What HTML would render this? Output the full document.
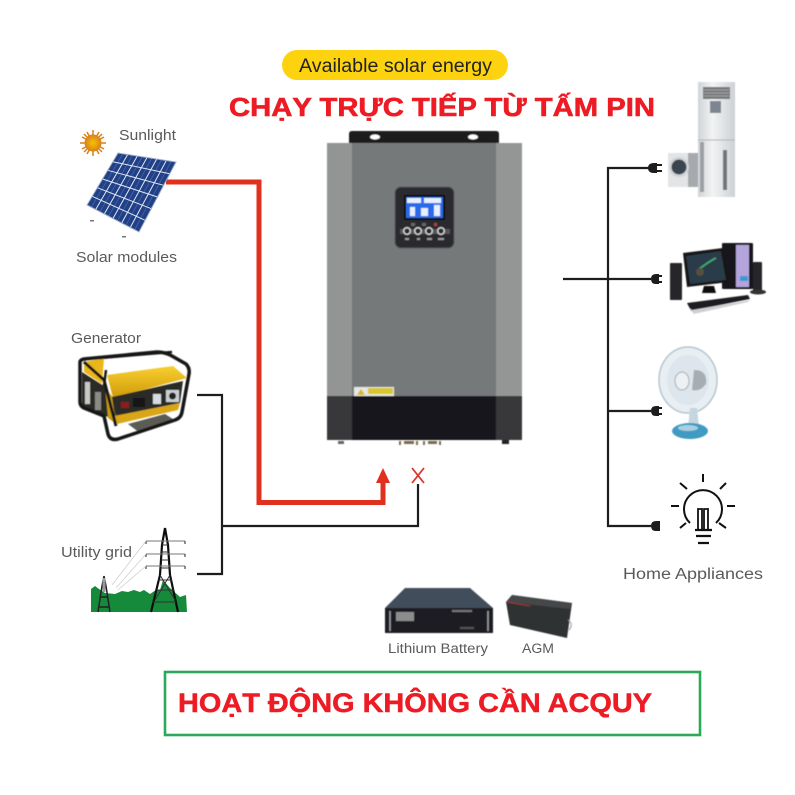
<!DOCTYPE html>
<html><head><meta charset="utf-8"><style>
html,body{margin:0;padding:0;background:#fff}
svg{display:block}
text{font-family:"Liberation Sans",sans-serif}
</style></head><body>
<svg width="795" height="795" viewBox="0 0 795 795" xmlns="http://www.w3.org/2000/svg">
<defs>
<filter id="b" x="-5%" y="-5%" width="110%" height="110%"><feGaussianBlur stdDeviation="0.6"/></filter>
<filter id="t" x="-5%" y="-20%" width="110%" height="140%"><feGaussianBlur stdDeviation="0.3"/></filter>
<radialGradient id="sun"><stop offset="0" stop-color="#f5c400"/><stop offset="1" stop-color="#d8801a"/></radialGradient>
<linearGradient id="gy" x1="0" y1="0" x2="0" y2="1"><stop offset="0" stop-color="#f8cf30"/><stop offset="1" stop-color="#d09a0a"/></linearGradient>
<linearGradient id="ac" x1="0" y1="0" x2="1" y2="0"><stop offset="0" stop-color="#d0d4d8"/><stop offset=".4" stop-color="#f1f3f4"/><stop offset="1" stop-color="#cdd1d4"/></linearGradient>
</defs>
<rect width="795" height="795" fill="#fff"/>

<!-- pill -->
<rect x="282" y="50" width="226" height="30" rx="15" fill="#fdd20e"/>
<text x="299" y="72" font-size="19" fill="#222" textLength="193" lengthAdjust="spacingAndGlyphs">Available solar energy</text>
<!-- headline -->
<text x="229" y="116" font-size="26" font-weight="bold" fill="#ed1c24" stroke="#ed1c24" stroke-width=".6" textLength="426" lengthAdjust="spacingAndGlyphs">CHẠY TRỰC TIẾP TỪ TẤM PIN</text>

<!-- inverter -->
<g filter="url(#b)">
<path d="M349 143V134q0-3 3-3H496q3 0 3 3V143Z" fill="#1d1d1f"/>
<ellipse cx="375" cy="137" rx="5" ry="2.500" fill="#fff"/>
<ellipse cx="473" cy="137" rx="5" ry="2.500" fill="#fff"/>
<rect x="327" y="143" width="25" height="253" fill="#939494"/>
<rect x="496" y="143" width="26" height="253" fill="#949595"/>
<rect x="352" y="143" width="144" height="253" fill="#76797a"/>
<rect x="327" y="396" width="25" height="44" fill="#39393b"/>
<rect x="496" y="396" width="26" height="44" fill="#39393b"/>
<rect x="352" y="396" width="144" height="44" fill="#17171a"/>
<rect x="354" y="387" width="40" height="9" fill="#e6e6e2"/>
<rect x="368" y="388" width="25" height="6" fill="#d9c62c"/>
<path d="M357 395l4-6 4 6Z" fill="#d9b81c"/>
<g fill="#7a6a48"><rect x="399" y="441" width="2" height="4"/><rect x="404" y="441" width="10" height="3"/><rect x="416" y="441" width="2" height="4"/><rect x="423" y="441" width="2" height="4"/><rect x="428" y="441" width="9" height="3"/><rect x="439" y="441" width="2" height="4"/></g>
<rect x="502" y="440" width="7" height="4" fill="#222"/>
<rect x="338" y="441" width="6" height="3" fill="#666"/>
<rect x="395" y="187" width="59" height="61" rx="6" fill="#2b2b2d" stroke="#55565a" stroke-width="1"/>
<rect x="404" y="195" width="41" height="25" rx="1" fill="#111"/>
<rect x="406" y="197" width="37" height="21" fill="#2a6ae8"/>
<g fill="#e6f0ff"><rect x="407" y="198" width="14" height="5"/><rect x="424" y="198" width="17" height="5"/><rect x="410" y="207" width="5" height="9"/><rect x="421" y="208" width="7" height="8"/><rect x="434" y="205" width="6" height="11"/></g>
<g fill="#666"><rect x="411" y="223" width="4" height="3"/><rect x="422" y="223" width="4" height="3"/></g>
<rect x="434" y="223" width="3" height="3" fill="#a44"/>
<rect x="400" y="229" width="50" height="5" fill="#55565a"/>
<g fill="#2b2b2d" stroke="#d5d5d5" stroke-width="1.400"><circle cx="407" cy="231" r="3.300"/><circle cx="418" cy="231" r="3.300"/><circle cx="429" cy="231" r="3.300"/><circle cx="441" cy="231" r="3.300"/></g>
<g fill="#9a9a9a"><rect x="405" y="238" width="4" height="2"/><rect x="417" y="238" width="3" height="2"/><rect x="427" y="238" width="5" height="2"/><rect x="438" y="238" width="6" height="2"/></g>
</g>

<!-- red line -->
<path d="M166 182H259V502.500H383V480" fill="none" stroke="#e0301e" stroke-width="5"/>
<path d="M383 468l7 15h-14Z" fill="#e0301e"/>
<!-- X -->
<path d="M412 468l12 15M424 468l-12 15" stroke="#d9362a" stroke-width="1.800" fill="none"/>

<!-- black connectors -->
<g fill="none" stroke="#1d1d1d" stroke-width="2.200">
<path d="M197 395H222V574H197"/>
<path d="M222 526H418V484"/>
<path d="M563 279H608"/>
<path d="M651 168H608V526H651"/>
<path d="M608 279H651M608 411H651"/>
</g>
<!-- plugs -->
<g fill="#1d1d1d">
<path d="M648 168q0-5 6-5h3v10h-3q-6 0-6-5Z"/><rect x="657" y="164" width="5" height="2"/><rect x="657" y="170" width="5" height="2"/>
<path d="M651 279q0-5 5-5h3v10h-3q-5 0-5-5Z"/><rect x="659" y="275" width="3" height="2"/><rect x="659" y="281" width="3" height="2"/>
<path d="M651 411q0-5 5-5h3v10h-3q-5 0-5-5Z"/><rect x="659" y="407" width="3" height="2"/><rect x="659" y="413" width="3" height="2"/>
<path d="M651 526q0-5 5-5h4v10h-4q-5 0-5-5Z"/>
</g>

<!-- sun -->
<g filter="url(#t)">
<g stroke="#d8801a" stroke-width="1.500"><path d="M93 130V156M80 143H106M84 134L102 152M102 134L84 152M87 132L99 154M99 132L87 154M82 137L104 149M104 137L82 149"/></g>
<circle cx="93" cy="143" r="8.500" fill="url(#sun)"/>
</g>

<!-- solar panel -->
<g filter="url(#t)">
<polygon points="118,153 176,162 139,232 87,205" fill="#233f86"/>
<g stroke="#4a72b8" stroke-width=".8" fill="none" opacity=".8">
<path d="M122.800 153.800L91.300 207.200M132.500 155.200L100 211.700M142.200 156.800L108.700 216.200M151.800 158.200L117.300 220.800M161.500 159.800L126 225.200M171.200 161.200L134.700 229.700"/>
</g>
<g stroke="#dfe7f5" stroke-width="1" fill="none">
<path d="M112.800 161.700L169.800 173.700M107.700 170.300L163.700 185.300M102.500 179L157.500 197M97.300 187.700L151.300 208.700M92.200 196.300L145.200 220.300"/>
<path d="M127.700 154.500L95.700 209.500M137.300 156L104.300 214M147 157.500L113 218.500M156.700 159L121.700 223M166.300 160.500L130.300 227.500"/>
</g>
<polygon points="118,153 176,162 139,232 87,205" fill="none" stroke="#9fb0cc" stroke-width="1"/>
<rect x="90" y="220" width="4" height="1.500" fill="#777"/><rect x="122" y="236" width="4" height="1.500" fill="#777"/>
</g>

<!-- generator -->
<g filter="url(#b)">
<polygon points="84,362 104,358 102,384 84,372" fill="#e9b71b"/>
<polygon points="82,372 104,386 113,398 116,418 104,416 82,408" fill="#2a2a28"/>
<rect x="85" y="382" width="5" height="22" fill="#c8c8c4"/>
<rect x="95" y="392" width="6" height="18" fill="#8a8a86"/>
<polygon points="107,375 173,366 187,378 113,398" fill="url(#gy)"/>
<polygon points="112,397 183,381 180,403 116,416" fill="#2a2a26"/>
<polygon points="114,416 180,403 178,410 117,424" fill="#d8a612"/>
<polygon points="112,397 116,424 108,418 105,386" fill="#c99a10"/>
<rect x="121" y="402" width="8" height="6" fill="#8c1f1f"/>
<rect x="133" y="398" width="12" height="9" fill="#181818"/>
<rect x="153" y="394" width="8" height="10" fill="#d7dce0"/>
<rect x="166" y="390" width="13" height="12" fill="#c9ced2"/><circle cx="172.500" cy="396" r="3.500" fill="#222"/>
<polygon points="128,424 165,414 176,421 140,433" fill="#5c5c54"/>
<g fill="none" stroke="#181816" stroke-width="3.500" stroke-linejoin="round">
<path d="M80 362Q80 360 84 359L157 352Q165 352 172 356L186 364Q190 368 189 374L182 412Q181 418 175 420L118 439Q110 441 108 434L104 416L84 408Q80 406 80 402Z"/>
<path d="M104 386L106 370" stroke-width="2.500"/>
<path d="M84 362L104 380L116 426" stroke-width="3"/>
<path d="M100 358L172 352" stroke-width="2.500"/>
</g>
</g>

<!-- tower -->
<g filter="url(#t)">
<path d="M91 612V589L95 586L99 589L105 593L115 594L122 591L128 592L134 590L140 592L144 590L150 594L156 590L160 590L163 580L170 588L180 597L186 595L187 612Z" fill="#138a3a"/>
<path d="M165 528L168 545L170 575L178 612M165 528L162 545L160 575L151 612" fill="none" stroke="#111" stroke-width="2.200"/>
<path d="M162 545H168M161 552H169M161 560H169M160 568H170M158 580H172M156 590H174M153 602H176M160 575L175 600M170 575L155 600" fill="none" stroke="#333" stroke-width="1"/>
<path d="M146 541H185M146 554H185M146 566H185" fill="none" stroke="#777" stroke-width="1"/>
<path d="M146 541v3M185 541v3M146 554v3M185 554v3M146 566v3M185 566v3" stroke="#222" stroke-width="1"/>
<path d="M104 576L102 586L98 612M104 576L106 586L110 612M100 597L108 597M98 607L110 607" fill="none" stroke="#222" stroke-width="1.500"/>
<path d="M104 578V592" stroke="#999" stroke-width="3"/>
<path d="M146 541L112 585M146 554L116 588M146 566L118 590" stroke="#ccc" stroke-width=".7" fill="none"/>
</g>

<!-- AC -->
<g filter="url(#b)">
<rect x="698" y="82" width="37" height="115" fill="url(#ac)"/>
<rect x="703" y="87" width="27" height="12" fill="#77787a"/>
<path d="M704 90H729M704 93H729M704 96H729" stroke="#a4a5a7" stroke-width="1"/>
<rect x="710" y="101" width="11" height="12" fill="#7d8590"/>
<path d="M698 140H735" stroke="#aeb2b6" stroke-width="1"/>
<rect x="700" y="142" width="4" height="50" fill="#9ca0a4"/>
<rect x="723" y="150" width="4" height="40" fill="#6f7478"/>
<rect x="668" y="153" width="30" height="34" fill="#e2e4e6"/>
<rect x="688" y="153" width="10" height="34" fill="#a7aaad"/>
<circle cx="679" cy="167" r="10" fill="#cfd3d6"/><circle cx="679" cy="167" r="7.500" fill="#3a4450"/>
</g>

<!-- PC -->
<g filter="url(#b)">
<rect x="722" y="243" width="31" height="46" rx="1" fill="#17171a"/>
<rect x="736" y="245" width="13" height="42" fill="#b3a4dc"/>
<rect x="740" y="276" width="8" height="5" fill="#3a9ad4"/>
<polygon points="683,253 723,248 729,282 687,287" fill="#151517"/>
<polygon points="686,256 721,251 726,280 690,284" fill="#2b3a48"/>
<path d="M698 270Q708 262 716 258" stroke="#3fa66c" stroke-width="2" fill="none"/>
<circle cx="700" cy="272" r="4" fill="#57503c"/>
<path d="M704 286h10l2 7h-14Z" fill="#111"/>
<rect x="670" y="263" width="12" height="37" rx="1" fill="#26282a"/>
<rect x="753" y="262" width="9" height="30" rx="1" fill="#26282a"/>
<ellipse cx="758" cy="292" rx="8" ry="2.500" fill="#333"/>
<polygon points="687,303 748,295 750,299 691,311" fill="#1f1f21"/>
<polygon points="688,307 692,310 750,300 748,302 694,314" fill="#cfd0d2"/>
</g>

<!-- fan -->
<g filter="url(#b)">
<ellipse cx="688" cy="380" rx="29" ry="33" fill="#e8eff3" stroke="#b4c4ce" stroke-width="1.500"/>
<ellipse cx="688" cy="380" rx="21" ry="25" fill="#dde6ec"/>
<path d="M694 370Q708 370 706 384Q700 392 692 390Z" fill="#a6aeb4"/>
<ellipse cx="682" cy="381" rx="7" ry="9" fill="#eef1f3" stroke="#a5acb1"/>
<path d="M690 408h7l2 19h-11Z" fill="#c6d6df"/>
<ellipse cx="690" cy="431" rx="18" ry="8" fill="#3f9ac2"/>
<ellipse cx="688" cy="428" rx="10" ry="3" fill="#a9d0e2"/>
</g>

<!-- bulb -->
<g fill="none" stroke="#111" stroke-width="2">
<path d="M690 523A19 19 0 1 1 716 523"/>
<path d="M698 530V509H702V530M704 530V509H708V530" stroke-width="1.800"/>
<path d="M703 474V482M671 506H679M727 506H735M680 483L687 489M726 483L720 489M680 528L686 523M726 528L719 523"/>
<path d="M695 530H712M696 536H711M698 543H709" stroke-width="2.200"/>
</g>

<!-- batteries -->
<g filter="url(#b)">
<polygon points="405,588 470,588 493,608 385,608" fill="#424d5c"/>
<rect x="385" y="608" width="108" height="25" fill="#1c1d22"/>
<path d="M390 611V631M488 611V631" stroke="#9ea2a6" stroke-width="1.500"/>
<rect x="396" y="612" width="18" height="9" fill="#8b8d8d"/>
<rect x="452" y="610" width="20" height="2" fill="#777"/>
<rect x="460" y="627" width="14" height="2" fill="#555"/>
<polygon points="512,595 572,603 567,638 510,625 506,602" fill="#2e3032"/>
<polygon points="506,602 512,595 572,603 570,609" fill="#454749"/>
<path d="M507 602L530 606" stroke="#a33" stroke-width="1"/>
<path d="M568 620Q574 624 569 630" fill="none" stroke="#999" stroke-width="1"/>
</g>

<!-- labels -->
<g fill="#5a5a5a" filter="url(#t)">
<text x="119" y="140" font-size="15" textLength="57" lengthAdjust="spacingAndGlyphs">Sunlight</text>
<text x="76" y="262" font-size="15" textLength="101" lengthAdjust="spacingAndGlyphs">Solar modules</text>
<text x="71" y="343" font-size="15" textLength="70" lengthAdjust="spacingAndGlyphs">Generator</text>
<text x="61" y="557" font-size="15" textLength="71" lengthAdjust="spacingAndGlyphs">Utility grid</text>
<text x="623" y="579" font-size="15.500" textLength="140" lengthAdjust="spacingAndGlyphs">Home Appliances</text>
<text x="388" y="653" font-size="13.500" textLength="100" lengthAdjust="spacingAndGlyphs">Lithium Battery</text>
<text x="522" y="653" font-size="13.500" textLength="32" lengthAdjust="spacingAndGlyphs">AGM</text>
</g>

<!-- bottom box -->
<rect x="165" y="672" width="535" height="63" fill="#fff" stroke="#2ca85a" stroke-width="2.600"/>
<text x="178" y="712" font-size="27" font-weight="bold" fill="#ed1c24" stroke="#ed1c24" stroke-width=".5" textLength="474" lengthAdjust="spacingAndGlyphs">HOẠT ĐỘNG KHÔNG CẦN ACQUY</text>
</svg>
</body></html>
